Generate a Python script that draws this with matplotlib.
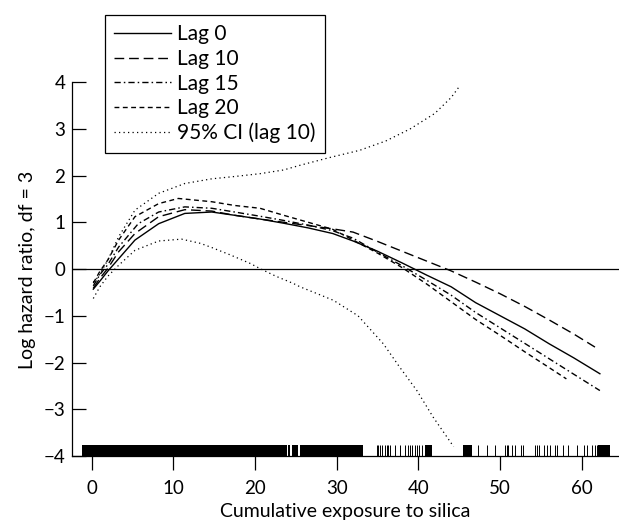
import matplotlib
matplotlib.use('Agg')
import matplotlib.pyplot as plt

plt.rcParams['font.family'] = ['Lato', 'DejaVu Sans']

# exposure grid and log hazard ratio curves
x_lag0 = [0.2, 1, 2, 3.3, 5.3, 8.2, 11.4, 14.7, 17.5, 20.6, 23.5, 26.5, 29.5, 32, 35, 38, 41, 44, 47, 50, 53, 56, 59, 62.2]
lag0 = [-0.43, -0.26, -0.04, 0.22, 0.62, 0.97, 1.19, 1.22, 1.15, 1.07, 0.98, 0.88, 0.76, 0.6, 0.38, 0.13, -0.13, -0.38, -0.72, -1.0, -1.28, -1.6, -1.9, -2.24]

x_lag10 = [0.2, 1, 2, 3.3, 5.3, 8.2, 11.4, 14.7, 17.5, 20.6, 23.5, 26.5, 29.5, 32, 35, 38, 41, 44, 47, 50, 53, 56, 59, 61.6]
lag10 = [-0.41, -0.2, 0.02, 0.37, 0.76, 1.12, 1.27, 1.24, 1.15, 1.07, 1.0, 0.93, 0.86, 0.79, 0.59, 0.38, 0.17, -0.04, -0.28, -0.53, -0.8, -1.09, -1.39, -1.67]

x_lag15 = [0.2, 1, 2, 3.3, 5.7, 8.2, 11.4, 14.7, 17.5, 20.6, 23.5, 26.5, 29.5, 32, 35, 38, 41, 44, 47, 50, 53, 56, 59, 62.2]
lag15 = [-0.36, -0.12, 0.1, 0.47, 0.97, 1.22, 1.33, 1.3, 1.22, 1.13, 1.04, 0.94, 0.82, 0.66, 0.36, 0.07, -0.24, -0.56, -0.93, -1.26, -1.59, -1.92, -2.25, -2.6]

x_lag20 = [0.2, 1, 2, 3.3, 5.3, 8.2, 10.6, 14.7, 17.5, 20.6, 23.5, 26.5, 29.5, 32, 35, 38, 41, 44, 47, 50, 53, 56, 58.1]
lag20 = [-0.3, -0.05, 0.2, 0.62, 1.12, 1.4, 1.51, 1.44, 1.36, 1.3, 1.15, 1.0, 0.85, 0.62, 0.34, 0.03, -0.32, -0.7, -1.08, -1.42, -1.77, -2.11, -2.35]

x_upper = [0.2, 0.8, 2, 3.3, 5.3, 8.2, 11.4, 14.7, 17.5, 20.6, 23.5, 25.5, 29, 32.8, 36, 39, 42, 44, 45.1]
ci_upper = [-0.28, -0.17, 0.2, 0.69, 1.26, 1.62, 1.83, 1.93, 1.98, 2.04, 2.12, 2.22, 2.38, 2.54, 2.74, 3.0, 3.33, 3.67, 3.93]

x_lower = [0.2, 1, 2, 3.3, 5.3, 8.2, 11, 13.3, 14.7, 17, 19.4, 20.6, 22.5, 24.7, 25.5, 27.5, 29.6, 32.6, 35.7, 37.7, 39.8, 41.8, 44.3]
ci_lower = [-0.63, -0.38, -0.15, 0.08, 0.4, 0.6, 0.64, 0.55, 0.46, 0.3, 0.12, 0.01, -0.15, -0.31, -0.38, -0.52, -0.67, -1.0, -1.6, -2.1, -2.6, -3.17, -3.8]

# rug of observed exposures: dense blocks (start, end) and single ticks
rug_blocks = [(-1.2, 23.85), (24.0, 24.3), (24.5, 25.2), (25.5, 33.2), (40.8, 41.6), (45.5, 46.5), (62.0, 63.4)]
rug_ticks = [34.9, 35.1, 35.3, 35.5, 35.9, 36.1, 36.3, 36.5, 37.1, 37.7, 38.3, 38.75, 38.96, 39.2,
             39.6, 39.85, 40.1, 40.4, 47.3, 48.35, 49.4, 50.6, 50.8, 51.0, 51.4, 51.8, 52.6, 52.8,
             54.3, 54.5, 54.7, 55.3, 55.7, 56.1, 56.7, 56.9, 57.7, 58.3, 59.4, 60.2, 60.6, 61.2,
             61.6, 61.8]

xticks = [0, 10, 20, 30, 40, 50, 60]
yticks = [-4, -3, -2, -1, 0, 1, 2, 3, 4]

fig = plt.figure(figsize=(6.19, 5.25), dpi=100)
ax = fig.add_axes([72.3 / 619, 69 / 525, 546.7 / 619, 456 / 525])

lw = 1.0
ax.plot(x_lag0, lag0, c='black', lw=lw, ls='-', label='Lag 0')
ax.plot(x_lag10, lag10, c='black', lw=lw, ls=(0, (7, 3.5)), label='Lag 10')
ax.plot(x_lag15, lag15, c='black', lw=lw, ls=(0, (4.5, 2.2, 1.1, 2.2)), label='Lag 15')
ax.plot(x_lag20, lag20, c='black', lw=lw, ls=(0, (3.5, 2.5)), label='Lag 20')
ax.plot(x_upper, ci_upper, c='black', lw=0.9, ls=(0, (1, 2.6)), label='95% CI (lag 10)')
ax.plot(x_lower, ci_lower, c='black', lw=0.9, ls=(0, (1, 2.6)))

ax.axhline(0, c='black', lw=0.9)

rug_h = 0.235
ax.broken_barh([(a, b - a) for a, b in rug_blocks], (-4, rug_h), facecolors='black', lw=0)
ax.vlines(rug_ticks, -4, -4 + rug_h, colors='black', lw=0.7)

ax.set_xlim(-2.37, 64.54)
ax.set_ylim(-4.0, 5.756)
ax.set_xticks(xticks)
ax.set_yticks(yticks)

for s in ['top', 'right']:
    ax.spines[s].set_visible(False)
ax.spines['left'].set_bounds(-4, 4)
ax.spines['left'].set_linewidth(0.9)
ax.spines['bottom'].set_linewidth(0.9)

ax.tick_params(axis='x', direction='out', length=10, width=0.9, pad=7, labelsize=13.5)
ax.tick_params(axis='y', direction='in', length=10, width=0.9, pad=5, labelsize=13.5)

ax.set_xlabel('Cumulative exposure to silica', fontsize=14)
ax.xaxis.set_label_coords(0.5, -0.102)
ax.set_ylabel('Log hazard ratio, df = 3', fontsize=14)
ax.yaxis.set_label_coords(-0.066, 0.408)

leg = ax.legend(loc='upper left', bbox_to_anchor=(0.0598, 0.967), borderaxespad=0,
                fontsize=15, frameon=True, fancybox=False, framealpha=1,
                edgecolor='black', handlelength=2.7, handletextpad=0.33,
                labelspacing=0.22, borderpad=0.45)
leg.get_frame().set_linewidth(0.9)

fig.savefig('out.png', dpi=100)
